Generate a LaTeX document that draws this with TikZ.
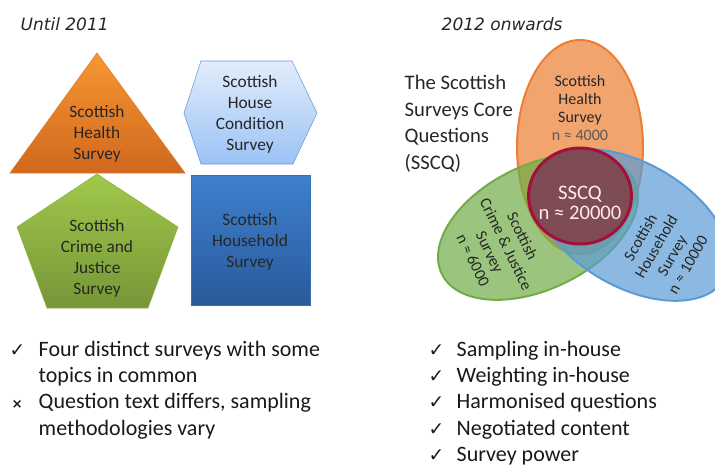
\documentclass[tikz,border=0pt]{standalone}
\usepackage{fontspec}
\setmainfont{Carlito}
\newfontfamily\symfont{DejaVu Sans}
\newfontfamily\headfont{DejaVu Sans}

\definecolor{offorange}{RGB}{237,125,49}
\definecolor{offgreen}{RGB}{112,173,71}
\definecolor{offblue}{RGB}{91,155,213}
\definecolor{sscqfill}{RGB}{127,75,85}
\definecolor{sscqline}{RGB}{165,15,60}
\definecolor{inktext}{RGB}{38,38,38}

\begin{document}
\begin{tikzpicture}[x=0.75pt, y=-0.75pt,
shapetext/.style={align=center, text=inktext, font=\fontsize{13}{15.75}\selectfont},
venntext/.style={align=center, text=inktext, font=\fontsize{12}{13.7}\selectfont},
sscqtext/.style={align=center, text=white!92!red, font=\fontsize{15.5}{15.5}\selectfont},
headtext/.style={anchor=base west, text=inktext, font=\headfont\itshape\fontsize{12.75}{15}\selectfont},
bullettext/.style={anchor=base west, text=black!90, font=\fontsize{16.5}{19.7}\selectfont},
checkmark/.style={anchor=base west, text=black!90, font=\symfont\fontsize{14}{16}\selectfont},
vennfill/.style={fill opacity=0.7, line width=1.5pt},]

	\useasboundingbox (0,0) rectangle (715,465);

	% until 2011: four separate surveys
	\node[headtext] (until) at (16,30.7) {Until 2011};

	\shadedraw[top color={rgb,255:red,248;green,150;blue,50}, bottom color={rgb,255:red,208;green,104;blue,30}, draw={rgb,255:red,220;green,120;blue,45}]
		(97,53) -- (185,173) -- (10,173) -- cycle;
	\shadedraw[top color={rgb,255:red,226;green,237;blue,252}, bottom color={rgb,255:red,155;green,194;blue,245}, draw={rgb,255:red,110;green,150;blue,210}]
		(184,113) -- (201,61) -- (292,61) -- (317,113) -- (293,164) -- (201,164) -- cycle;
	\shadedraw[top color={rgb,255:red,160;green,200;blue,75}, bottom color={rgb,255:red,118;green,150;blue,55}, draw={rgb,255:red,140;green,180;blue,65}]
		(97,174) -- (178,227) -- (148,308) -- (47,308) -- (17,227) -- cycle;
	\shadedraw[top color={rgb,255:red,62;green,128;blue,205}, bottom color={rgb,255:red,42;green,90;blue,155}, draw={rgb,255:red,55;green,110;blue,185}]
		(191,175) rectangle (310,305);

	\node[shapetext] (shes) at (97,134) {Scottish\\Health\\Survey};
	\node[shapetext] (shcs) at (250,114) {Scottish\\House\\Condition\\Survey};
	\node[shapetext] (scjs) at (97,258) {Scottish\\Crime and\\Justice\\Survey};
	\node[shapetext] (shs) at (250,242) {Scottish\\Household\\Survey};

	% 2012 onwards: one pooled sample
	\node[headtext] (onward) at (437,30.7) {2012 onwards};

	\node[anchor=base west, align=left, text=inktext, font=\fontsize{15.5}{19.9}\selectfont] (title) at (400,169.5)
		{The Scottish\\Surveys Core\\Questions\\(SSCQ)};

	\filldraw[vennfill, fill=offorange, draw=offorange] (580,147) ellipse [x radius=47.25pt, y radius=80.25pt];
	\filldraw[vennfill, fill=offgreen, draw=offgreen, rotate around={26:(538,227)}] (538,227) ellipse [x radius=80.25pt, y radius=46.5pt];
	\filldraw[vennfill, fill=offblue, draw=offblue, rotate around={-30:(632,225)}] (632,225) ellipse [x radius=80.25pt, y radius=46.5pt];
	\filldraw[fill=sscqfill, draw=sscqline, line width=2.25pt] (580,196) ellipse [x radius=38.6pt, y radius=36pt];

	\node[venntext] (hlth) at (580,108) {Scottish\\Health\\Survey\\\textcolor{black!65}{n ≈ 4000}};
	\node[venntext, rotate=-64] (crime) at (498,248) {Scottish\\Crime \& Justice\\Survey\\n ≈ 6000};
	\node[venntext, rotate=60] (hhold) at (664,251) {Scottish\\Household\\Survey\\n ≈ 10000};
	\node[sscqtext] (core) at (580,203) {SSCQ\\n ≈ 20000};

	% bullet points
	\node[checkmark] (c1) at (5,356) {✓};
	\node[bullettext] (b1) at (34,356) {Four distinct surveys with some};
	\node[bullettext] (b1x) at (34,382.3) {topics in common};
	\node[checkmark, font=\symfont\bfseries\fontsize{10}{12}\selectfont] (c2) at (7,408.6) {×};
	\node[bullettext] (b2) at (34,408.6) {Question text differs, sampling};
	\node[bullettext] (b2x) at (34,435) {methodologies vary};

	\node[checkmark] (r1) at (424,356) {✓};
	\node[bullettext] (a1) at (452,356) {Sampling in-house};
	\node[checkmark] (r2) at (424,382.3) {✓};
	\node[bullettext] (a2) at (452,382.3) {Weighting in-house};
	\node[checkmark] (r3) at (424,408.6) {✓};
	\node[bullettext] (a3) at (452,408.6) {Harmonised questions};
	\node[checkmark] (r4) at (424,435) {✓};
	\node[bullettext] (a4) at (452,435) {Negotiated content};
	\node[checkmark] (r5) at (424,461.3) {✓};
	\node[bullettext] (a5) at (452,461.3) {Survey power};

\end{tikzpicture}
\end{document}
